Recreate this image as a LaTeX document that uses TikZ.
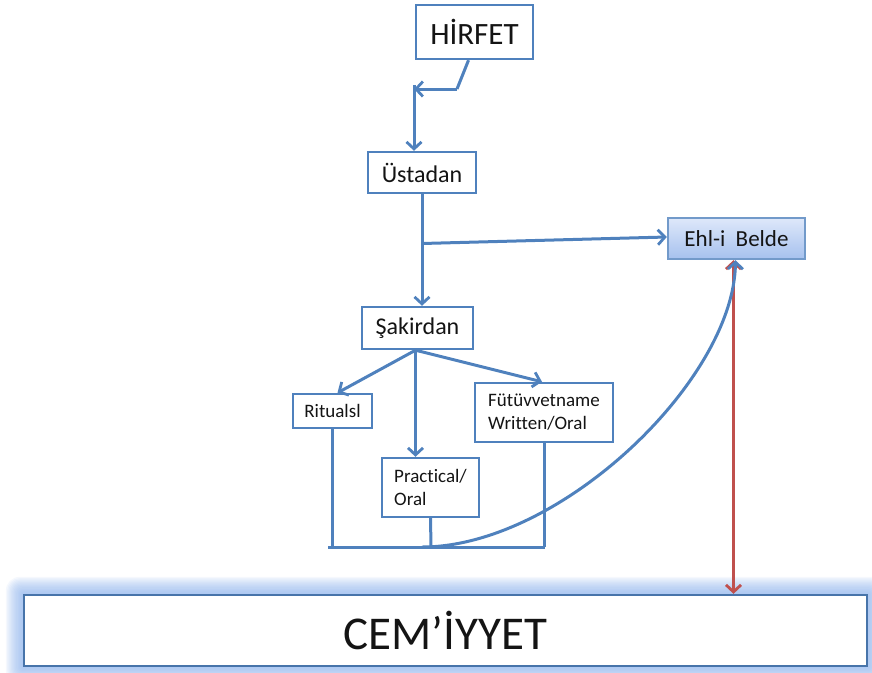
\documentclass[tikz,border=0pt]{standalone}
\usepackage{fontspec}
\setmainfont[Ligatures=NoCommon]{Carlito}
\usetikzlibrary{arrows.meta}
\definecolor{officeblue}{RGB}{79,129,189}
\definecolor{officered}{RGB}{192,80,77}
\definecolor{glowblue}{RGB}{140,178,236}
\definecolor{belltop}{RGB}{222,232,250}
\definecolor{bellbot}{RGB}{166,193,238}
\definecolor{inktext}{RGB}{20,20,20}
\tikzset{
  box/.style={draw=officeblue, line width=2.4pt, fill=white, inner sep=0pt,
    text=inktext, font=\fontsize{24}{28}\selectfont},
  smallbox/.style={box, font=\fontsize{19}{23}\selectfont, align=left},
  flow/.style={draw=officeblue, line width=3pt, -{Straight Barb[length=7pt,width=15pt,line width=2.8pt]}},
  link/.style={draw=officeblue, line width=3pt},
  redflow/.style={draw=officered, line width=3pt,
    {Straight Barb[length=7pt,width=15pt,line width=2.8pt]}-{Straight Barb[length=7pt,width=15pt,line width=2.8pt]}},
}
\begin{document}
\begin{tikzpicture}[x=1pt,y=-1pt]
\useasboundingbox (0,0) rectangle (872,672);

% soft glow behind the bottom bar
\foreach \g in {1,...,14}{
  \fill[glowblue, opacity=0.085, rounded corners=\g pt]
    ({24-1.3*\g},{595-1.3*\g}) rectangle ({867+1.3*\g},{666+1.3*\g});
}

% nodes
\node[box, minimum width=117pt, minimum height=54pt, font=\fontsize{31}{36}\selectfont]
  (hirfet) at (474.5,32) {HİRFET};
\node[box, minimum width=108pt, minimum height=41pt] (ustadan) at (422,172.5) {Üstadan};
\node[box, minimum width=137pt, minimum height=41pt, draw=officeblue!80,
  top color=belltop, bottom color=bellbot, font=\fontsize{23}{27}\selectfont]
  (ehl) at (736.5,238.5) {Ehl-i\ \ Belde};
\node[box, minimum width=111pt, minimum height=42pt] (sakirdan) at (417.5,328) {Şakirdan};
\node[smallbox, minimum width=79pt, minimum height=34pt] (ritual) at (332.5,411) {Ritualsl};
\node[smallbox, minimum width=138pt, minimum height=59pt] (futuv) at (544,412.5)
  {Fütüvvetname\\Written/Oral};
\node[smallbox, minimum width=97pt, minimum height=59pt] (pract) at (430.5,487.5)
  {Practical/\\Oral};
\node[box, line width=2.4pt, draw=officeblue!90!black, minimum width=843pt, minimum height=71pt,
  font=\fontsize{47}{54}\selectfont] (cem) at (445.5,630.5) {CEM’İYYET};

% junction points
\coordinate (bend) at (457,89);
\coordinate (drop) at (414,89);
\coordinate (split) at (422,243.5);
\coordinate (baseL) at (328,547);
\coordinate (baseR) at (545,547);
\coordinate (baseM) at (431,547);
\coordinate (curveStart) at (422,547);

% top elbow
\draw[link] ([xshift=-6pt]hirfet.south) -- (bend);
\draw[flow] (bend) -- (drop);
\draw[flow] ([yshift=4pt]drop) -- (ustadan.north -| drop);

% main trunk
\draw[link] (ustadan.south) -- (split);
\draw[flow] (split) -- (sakirdan.north -| split);
\draw[flow] (split) -- ([yshift=1.5pt]ehl.west);

% branches of Şakirdan
\coordinate (fan) at ([xshift=-2pt]sakirdan.south);
\draw[flow] (fan) -- ([xshift=5pt]ritual.north);
\draw[flow] (fan) -- (pract.north -| fan);
\draw[flow] (fan) -- ([xshift=-2pt]futuv.north);

% collecting lines
\draw[link] (ritual.south) -- (ritual.south |- baseL);
\draw[link] (pract.south) -- (baseM);
\draw[link] (futuv.south) -- (futuv.south |- baseR);
\draw[link] (baseL) -- (baseR);

% link between the town folk and the society
\draw[redflow] ([xshift=-3pt]ehl.south) -- ([xshift=-3pt]ehl.south |- cem.north);

% curve back up to Ehl-i Belde
\draw[flow] (curveStart) .. controls (560,547) and (734,380) .. ([xshift=-1pt]ehl.south);
\end{tikzpicture}
\end{document}
